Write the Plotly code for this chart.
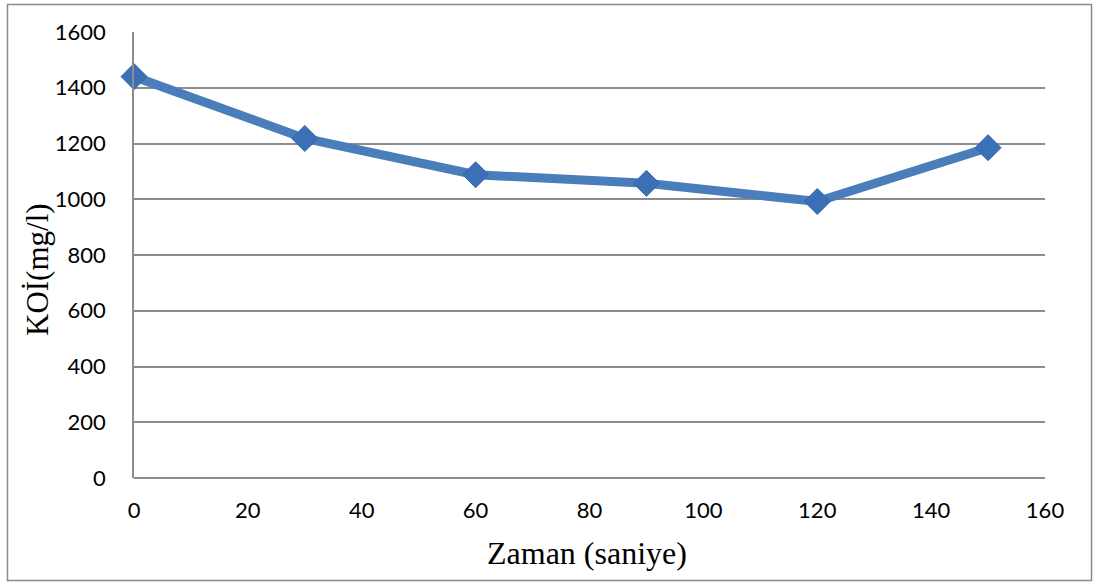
import plotly.graph_objects as go

zaman = [0, 30, 60, 90, 120, 150]
koi = [1440, 1218, 1088, 1057, 992, 1185]

x_ticks = [0, 20, 40, 60, 80, 100, 120, 140, 160]
y_ticks = [0, 200, 400, 600, 800, 1000, 1200, 1400, 1600]

W, H = 1093, 583
L, R, T, B = 134, 48, 32, 105
pw, ph = W - L - R, H - T - B

def px_x(p):
    return (p - L) / pw

def px_y(p):
    return (H - B - p) / ph

fig = go.Figure()
fig.add_trace(go.Scatter(
    x=zaman, y=koi, mode="lines+markers",
    line=dict(color="#4a7ebb", width=9),
    marker=dict(symbol="diamond", size=20, color="#3b70b6",
                line=dict(color="#3465a8", width=1)),
    showlegend=False, cliponaxis=False,
))

grid_c = "#8c8c8c"
fig.update_layout(
    width=W, height=H,
    margin=dict(l=L, r=R, t=T, b=B),
    paper_bgcolor="white", plot_bgcolor="white",
    xaxis=dict(range=[0, 160], tickvals=x_ticks, showgrid=False,
               zeroline=False, showline=False, ticks="",
               tickfont=dict(family="Lato", size=22, color="black"),
               ticklabelstandoff=17),
    yaxis=dict(range=[0, 1600], tickvals=y_ticks, showgrid=True,
               gridcolor=grid_c, gridwidth=1.5, zeroline=True,
               zerolinecolor=grid_c, zerolinewidth=1.5,
               showline=True, linecolor=grid_c, linewidth=1.5, ticks="",
               tickfont=dict(family="Lato", size=22, color="black"),
               ticklabelstandoff=22),
    font=dict(family="Lato", color="black"),
    shapes=[dict(type="rect", xref="paper", yref="paper",
                 x0=px_x(7.5), x1=px_x(1091.5), y0=px_y(580.5), y1=px_y(4.5),
                 line=dict(color="#8a8a8a", width=1.5), layer="below")],
    annotations=[
        dict(text="Zaman (saniye)", xref="paper", yref="paper",
             x=px_x(587), y=px_y(553), showarrow=False,
             xanchor="center", yanchor="middle",
             font=dict(family="Liberation Serif", size=32, color="black")),
        dict(text="KOİ(mg/l)", xref="paper", yref="paper",
             x=px_x(37), y=px_y(270), showarrow=False, textangle=-90,
             xanchor="center", yanchor="middle",
             font=dict(family="Liberation Serif", size=31, color="black")),
    ],
)

fig.write_html("out.html")
